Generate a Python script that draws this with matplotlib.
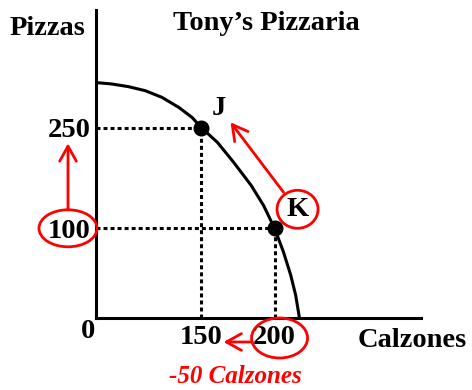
import numpy as np
import matplotlib
matplotlib.use("Agg")
import matplotlib.pyplot as plt
from matplotlib.patches import Ellipse
import matplotlib.transforms as mtransforms

# ---------------- data ----------------
calzones_curve = [0, 22, 46, 70, 94, 118, 137, 150, 161, 172, 184, 192.5, 200, 206, 211, 214.4, 217]
pizzas_curve = [317, 315, 311, 305, 295, 280, 265, 250, 228, 198.5, 164, 134, 100, 74, 48, 25.6, 0]
point_labels = ["J", "K"]
point_calzones = [150, 200]
point_pizzas = [250, 100]
x_ticks = [150, 200]
y_ticks = [100, 250]
title = "Tony\u2019s Pizzaria"
x_label = "Calzones"
y_label = "Pizzas"
change_label = "-50 Calzones"

# schematic (non-linear) axis scales: value knots -> screen position
xv, xp = [0, 150, 200, 300], [0, 105, 178, 324]
yv, yp = [0, 100, 250, 425], [0, 90, 191, 309]

def fwd_x(v): return np.interp(v, xv, xp)
def inv_x(p): return np.interp(p, xp, xv)
def fwd_y(v): return np.interp(v, yv, yp)
def inv_y(p): return np.interp(p, yp, yv)

W, H = 472, 390
plt.rcParams["font.family"] = ["Liberation Serif", "DejaVu Serif"]
plt.rcParams["font.weight"] = "bold"
FS = 20.5
RED = "#ff0000"

fig = plt.figure(figsize=(W / 100, H / 100), dpi=100)
ax = fig.add_axes([96 / W, 72 / H, 325 / W, 308 / H])
ax.set_xscale("function", functions=(fwd_x, inv_x))
ax.set_yscale("function", functions=(fwd_y, inv_y))
ax.set_xlim(0, 300)
ax.set_ylim(0, 425)
for s in ["top", "right"]:
    ax.spines[s].set_visible(False)
for s in ["left", "bottom"]:
    ax.spines[s].set_linewidth(2.2)
    ax.spines[s].set_capstyle("projecting")
    ax.spines[s].set_zorder(5)

ax.set_xticks(x_ticks)
ax.set_xticklabels([str(t) for t in x_ticks])
ax.set_yticks(y_ticks)
ax.set_yticklabels([str(t) for t in y_ticks])
ax.tick_params(length=0, labelsize=FS)
ax.tick_params(axis="x", pad=5)
ax.tick_params(axis="y", pad=4)
ax.minorticks_off()

# dotted guides
for cx, py in zip(point_calzones, point_pizzas):
    ax.plot([0, cx], [py, py], color="black", lw=2.2, dashes=(1.3, 1.0),
            dash_capstyle="butt", clip_on=False, zorder=2)
    ax.plot([cx, cx], [0, py], color="black", lw=2.2, dashes=(1.3, 1.0),
            dash_capstyle="butt", clip_on=False, zorder=2)

# PPF curve
ax.plot(calzones_curve, pizzas_curve, color="black", lw=2.2,
        solid_joinstyle="round", solid_capstyle="butt", clip_on=False, zorder=3)
ax.plot(point_calzones, point_pizzas, "o", color="black", ms=10.5, zorder=4,
        clip_on=False)

def disp(x, y):
    return ax.transData.transform((x, y))

def pix(anchor, dx, dy):
    a = disp(*anchor)
    return (a[0] + dx, a[1] + dy)

ident = mtransforms.IdentityTransform()

def ellipse(center, w, h):
    e = Ellipse(center, w, h, fill=False, edgecolor=RED, lw=2.0, transform=ident)
    fig.add_artist(e)

def arrow(tail, tip):
    ax.annotate("", xy=tip, xycoords="figure pixels", xytext=tail,
                textcoords="figure pixels", annotation_clip=False,
                arrowprops=dict(arrowstyle="->,head_length=0.9,head_width=0.5",
                                color=RED, lw=2.0, shrinkA=0, shrinkB=0,
                                mutation_scale=12))

J = (point_calzones[0], point_pizzas[0])
K = (point_calzones[1], point_pizzas[1])

# point labels
jx, jy = pix(J, 17.5, 19.5)
fig.text(jx / W, jy / H, point_labels[0], fontsize=FS, ha="center", va="center")
kx, ky = pix(K, 23, 19)
fig.text(kx / W, ky / H, point_labels[1], fontsize=FS, ha="center", va="center")
ellipse((kx, ky), 41, 38)
arrow(pix(K, 9, 36), pix(K, -44, 106))

# 100 -> 250 annotation
c100 = pix((0, y_ticks[0]), -28, 0)
ellipse(c100, 58, 37)
arrow(pix((0, y_ticks[0]), -28, 18.5), pix((0, y_ticks[0]), -28, 85))

# 200 -> 150 annotation
c200 = pix((x_ticks[1], 0), 5, -20)
ellipse(c200, 56, 40)
arrow(pix((x_ticks[1], 0), -23, -24), pix((x_ticks[1], 0), -51, -24))

def ft(x, y, s, **kw):
    fig.text(x / W, 1 - y / H, s, **kw)

ft(10, 35, y_label, fontsize=FS, ha="left", va="baseline")
ft(266.5, 30, title, fontsize=FS, ha="center", va="baseline")
ft(358, 347, x_label, fontsize=FS, ha="left", va="baseline")
ft(87.5, 338, "0", fontsize=FS, ha="center", va="baseline")
ft(235.5, 383, change_label, fontsize=18, ha="center", va="baseline",
   color=RED, style="italic", weight="bold")

fig.savefig("out.png", dpi=100)
